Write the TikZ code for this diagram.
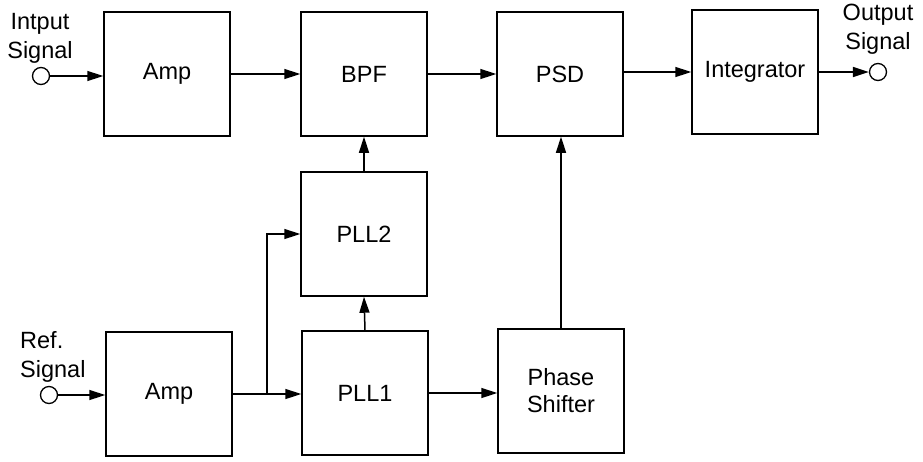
\documentclass[tikz,border=0pt]{standalone}
\usepackage{fontspec}
\setmainfont{Liberation Sans}
\usetikzlibrary{arrows.meta}
\begin{document}
\begin{tikzpicture}[x=1pt,y=-1pt,
  blk/.style={draw, line width=1.5pt, minimum width=126pt, minimum height=124pt, inner sep=0pt, align=center, font=\fontsize{23.5}{27}\selectfont},
  lbl/.style={inner sep=0pt, font=\fontsize{23.5}{29}\selectfont},
  term/.style={circle, draw, line width=1.3pt, minimum size=17pt, inner sep=0pt},
  conn/.style={line width=1.5pt, -{Triangle[length=16pt,width=10pt]}},
  wire/.style={line width=1.5pt}]
\useasboundingbox (0,0) rectangle (923,461);
% top row
\node[blk] (amp1) at (167,74) {Amp};
\node[blk] (bpf) at (364,74) {BPF};
\node[blk] (psd) at (560,74) {PSD};
\node[blk] (integ) at (755,72) {Integrator};
% middle
\node[blk] (pll2) at (364,234) {PLL2};
% bottom row
\node[blk] (amp2) at (169,394) {Amp};
\node[blk] (pll1) at (365,393) {PLL1};
\node[blk] (ph) at (561,391) {Phase\\Shifter};
% terminals
\node[term] (in) at (41,76) {};
\node[term] (out) at (878,72) {};
\node[term] (ref) at (49,395) {};
% labels
\node[lbl, align=center] (inl) at (40,38) {Intput\\Signal};
\node[lbl, align=center] (outl) at (878,29) {Output\\Signal};
\node[lbl, align=left, anchor=west] (refl) at (20,357) {Ref.\\Signal};
% connectors
\draw[conn] (in.east) -- (in.east -| amp1.west);
\draw[conn] (amp1.east) -- (amp1.east -| bpf.west);
\draw[conn] (bpf.east) -- (bpf.east -| psd.west);
\draw[conn] (psd.east |- integ.west) -- (integ.west);
\draw[conn] (integ.east) -- (out.west);
\draw[conn] (ref.east) -- (ref.east -| amp2.west);
\coordinate (br) at (267,394);
\draw[wire] (amp2.east) -- (br);
\draw[conn] (br) -- (br -| pll1.west);
\draw[conn] (br) |- (pll2.west);
\draw[conn] (pll1.north) -- (pll2.south);
\draw[conn] (pll2.north) -- (bpf.south);
\draw[conn] (pll1.east) -- (pll1.east -| ph.west);
\draw[conn] (ph.north) -- (ph.north |- psd.south);
\end{tikzpicture}
\end{document}
